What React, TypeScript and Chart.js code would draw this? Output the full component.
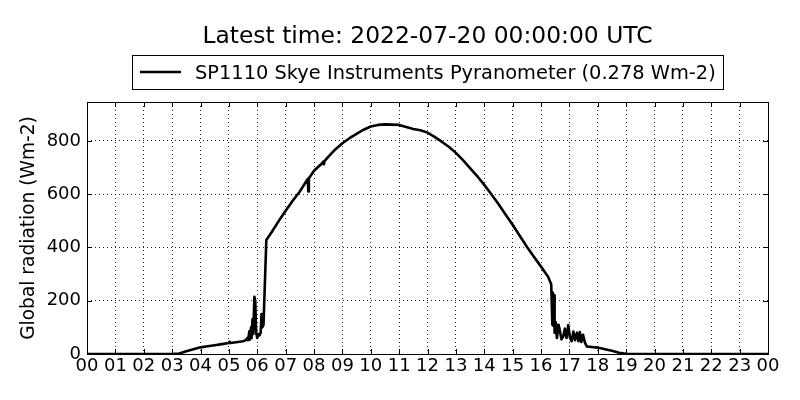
import React, { useEffect, useRef } from "react";
import { Chart, registerables } from "chart.js";

Chart.register(...registerables);

const TITLE = "Latest time: 2022-07-20 00:00:00 UTC";
const SERIES_LABEL = "SP1110 Skye Instruments Pyranometer (0.278 Wm-2)";
const Y_AXIS_TITLE = "Global radiation (Wm-2)";

// Time of day in hours (UTC)
const HOURS = [
  0, 1, 2, 3, 3.25, 3.5, 3.75, 4.0, 4.25, 4.5, 4.75, 5.0, 5.02, 5.05, 5.25, 5.5,
  5.6, 5.65, 5.68, 5.72, 5.75, 5.78, 5.8, 5.83, 5.86, 5.9, 5.93, 5.96, 6.0, 6.04,
  6.08, 6.12, 6.15, 6.18, 6.22, 6.32, 6.5, 6.75, 7.0, 7.25, 7.5, 7.75, 7.78, 7.8,
  7.82, 7.9, 8.0, 8.25, 8.33, 8.35, 8.37, 8.5, 8.75, 9.0, 9.25, 9.5, 9.75, 10.0,
  10.25, 10.5, 10.75, 11.0, 11.25, 11.5, 11.75, 12.0, 12.25, 12.5, 12.75, 13.0,
  13.25, 13.5, 13.75, 14.0, 14.25, 14.5, 14.75, 15.0, 15.25, 15.5, 15.75, 16.0,
  16.25, 16.36, 16.4, 16.42, 16.44, 16.46, 16.48, 16.52, 16.56, 16.62, 16.67,
  16.72, 16.78, 16.84, 16.9, 16.96, 17.02, 17.08, 17.14, 17.2, 17.27, 17.32,
  17.37, 17.42, 17.48, 17.55, 17.62, 18.0, 18.25, 18.5, 18.75, 19.0, 19.2, 20,
  21, 22, 23, 24,
];

// Global radiation (Wm-2)
const RADIATION = [
  0, 0, 0, 0, 2, 10, 18, 25, 29, 33, 37, 41, 46, 41, 44, 48,
  52, 60, 52, 85, 55, 100, 60, 130, 75, 215, 200, 80, 60, 75,
  70, 80, 150, 100, 110, 428, 456, 498, 538, 575, 610, 652, 657, 610,
  660, 672, 688, 712, 722, 712, 724, 740, 768, 791, 810, 826, 842, 854,
  860, 862, 861, 860, 852, 845, 840, 831, 815, 797, 778, 755,
  728, 698, 668, 635, 600, 563, 524, 485, 444, 403, 365, 328,
  290, 262, 110, 230, 105, 220, 80, 120, 60, 110, 85,
  55, 65, 95, 60, 109, 62, 48, 84, 52, 80, 48,
  82, 45, 72, 42, 28, 24, 18, 12, 5, 1, 0, 0,
  0, 0, 0, 0,
];

const X_TICKS = [0, 1, 2, 3, 4, 5, 6, 7, 8, 9, 10, 11, 12, 13, 14, 15, 16, 17, 18, 19, 20, 21, 22, 23, 24];
const X_TICK_LABELS = [
  "00", "01", "02", "03", "04", "05", "06", "07", "08", "09", "10", "11", "12",
  "13", "14", "15", "16", "17", "18", "19", "20", "21", "22", "23", "00",
];
const Y_TICKS = [0, 200, 400, 600, 800];
const Y_MIN = 0;
const Y_MAX = 946;

const FONT = "DejaVu Sans";

const mplDecor = {
  id: "mplDecor",
  afterDraw(chart: any) {
    const ctx: CanvasRenderingContext2D = chart.ctx;
    const { left, right, top, bottom } = chart.chartArea;
    const xs = chart.scales.x;
    const ys = chart.scales.y;
    ctx.save();
    // frame
    ctx.strokeStyle = "#000";
    ctx.lineWidth = 1;
    ctx.setLineDash([]);
    ctx.strokeRect(Math.round(left) + 0.5, Math.round(top) + 0.5, Math.round(right - left), Math.round(bottom - top));
    // inward ticks
    const tl = 5;
    ctx.beginPath();
    X_TICKS.forEach((v) => {
      const px = Math.round(xs.getPixelForValue(v)) + 0.5;
      ctx.moveTo(px, bottom);
      ctx.lineTo(px, bottom - tl);
      ctx.moveTo(px, top);
      ctx.lineTo(px, top + tl);
    });
    Y_TICKS.forEach((v) => {
      const py = Math.round(ys.getPixelForValue(v)) + 0.5;
      ctx.moveTo(left, py);
      ctx.lineTo(left + tl, py);
      ctx.moveTo(right, py);
      ctx.lineTo(right - tl, py);
    });
    ctx.stroke();

    // title
    const cx = (left + right) / 2;
    ctx.fillStyle = "#000";
    ctx.font = `23.4px "${FONT}"`;
    ctx.textAlign = "center";
    ctx.textBaseline = "alphabetic";
    ctx.fillText(TITLE, cx, 43);

    // legend
    const label = chart.data.datasets[0].label as string;
    ctx.font = `19.4px "${FONT}"`;
    const tw = ctx.measureText(label).width;
    const padL = 8, lineLen = 41, gap = 14, padR = 7;
    const bw = padL + lineLen + gap + tw + padR;
    const bx = Math.round(cx - bw / 2);
    const by = 55, bh = 34;
    ctx.fillStyle = "#fff";
    ctx.fillRect(bx, by, bw, bh);
    ctx.strokeStyle = "#000";
    ctx.lineWidth = 1;
    ctx.strokeRect(bx + 0.5, by + 0.5, Math.round(bw), bh);
    ctx.lineWidth = 2.5;
    ctx.beginPath();
    ctx.moveTo(bx + padL, 72);
    ctx.lineTo(bx + padL + lineLen, 72);
    ctx.stroke();
    ctx.fillStyle = "#000";
    ctx.textAlign = "left";
    ctx.fillText(label, bx + padL + lineLen + gap, 79);
    ctx.restore();
  },
};

export default function App() {
  const canvasRef = useRef<HTMLCanvasElement | null>(null);

  useEffect(() => {
    const canvas = canvasRef.current;
    if (!canvas) return;
    const points = HOURS.map((h, i) => ({ x: h, y: RADIATION[i] }));
    const chart = new Chart(canvas, {
      type: "line",
      data: {
        datasets: [
          {
            label: SERIES_LABEL,
            data: points,
            borderColor: "#000",
            backgroundColor: "#000",
            borderWidth: 2.6,
            borderJoinStyle: "round",
            borderCapStyle: "round",
            pointRadius: 0,
            tension: 0,
            fill: false,
          },
        ],
      },
      options: {
        responsive: false,
        animation: false,
        devicePixelRatio: 1,
        layout: { padding: { top: 102, right: 32, left: 0, bottom: 0 } },
        plugins: {
          legend: { display: false },
          title: { display: false },
          tooltip: { enabled: false },
        },
        scales: {
          x: {
            type: "linear",
            min: 0,
            max: 24,
            afterBuildTicks: (scale: any) => {
              scale.ticks = X_TICKS.map((v) => ({ value: v }));
            },
            afterFit: (scale: any) => {
              scale.height = 46;
            },
            ticks: {
              autoSkip: false,
              maxRotation: 0,
              minRotation: 0,
              padding: 2,
              color: "#000",
              font: { family: FONT, size: 18 },
              callback: (_v: any, i: number) => X_TICK_LABELS[i],
            },
            grid: {
              color: "rgba(0,0,0,0.85)",
              lineWidth: 1,
              drawTicks: false,
            },
            border: { display: false, dash: [1, 3] },
          },
          y: {
            type: "linear",
            min: Y_MIN,
            max: Y_MAX,
            afterBuildTicks: (scale: any) => {
              scale.ticks = Y_TICKS.map((v) => ({ value: v }));
            },
            afterFit: (scale: any) => {
              scale.width = 87;
            },
            ticks: {
              padding: 6,
              color: "#000",
              font: { family: FONT, size: 18 },
              callback: (v: any) => String(v),
            },
            grid: {
              color: "rgba(0,0,0,0.85)",
              lineWidth: 1,
              drawTicks: false,
            },
            border: { display: false, dash: [1, 3] },
            title: {
              display: true,
              text: Y_AXIS_TITLE,
              color: "#000",
              font: { family: FONT, size: 18.6 },
              padding: { top: 18, bottom: 0 },
            },
          },
        },
      },
      plugins: [mplDecor],
    });
    return () => chart.destroy();
  }, []);

  return (
    <div style={{ position: "absolute", left: 0, top: 0, width: 800, height: 400, background: "#fff" }}>
      <canvas ref={canvasRef} width={800} height={400} style={{ width: 800, height: 400, display: "block" }} />
    </div>
  );
}
